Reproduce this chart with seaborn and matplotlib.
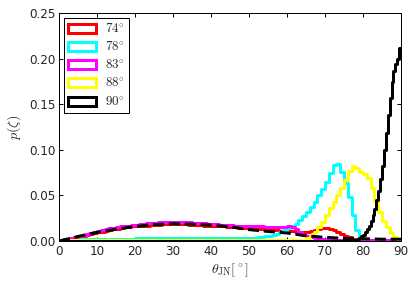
import numpy as np
import pandas as pd
import seaborn as sns
import matplotlib
matplotlib.use("Agg")
import matplotlib.pyplot as plt
from matplotlib.patches import Patch

# 1 degree bins from 0 to 90
nbins = 90
centers = np.arange(nbins) + 0.5

labels = [r'$74^{\circ}$', r'$78^{\circ}$', r'$83^{\circ}$', r'$88^{\circ}$', r'$90^{\circ}$']
colors = ['red', 'cyan', 'magenta', 'yellow', 'black']

p74 = [0.000, 0.001, 0.002, 0.003, 0.004, 0.005, 0.006, 0.007, 0.008, 0.009,
       0.010, 0.010, 0.011, 0.012, 0.013, 0.013, 0.014, 0.015, 0.015, 0.016,
       0.016, 0.017, 0.017, 0.017, 0.018, 0.018, 0.018, 0.019, 0.019, 0.019,
       0.019, 0.019, 0.019, 0.019, 0.018, 0.018, 0.018, 0.018, 0.017, 0.017,
       0.017, 0.016, 0.016, 0.016, 0.015, 0.015, 0.015, 0.014, 0.014, 0.014,
       0.013, 0.013, 0.013, 0.013, 0.012, 0.012, 0.012, 0.012, 0.011, 0.011,
       0.011, 0.011, 0.010, 0.010, 0.010, 0.010, 0.011, 0.012, 0.013, 0.014,
       0.014, 0.013, 0.012, 0.010, 0.008, 0.006, 0.004, 0.002, 0.001, 0.000,
       0.000, 0.000, 0.000, 0.000, 0.000, 0.000, 0.000, 0.000, 0.000, 0.000]

p78 = [0.001, 0.002, 0.002, 0.002, 0.002, 0.002, 0.002, 0.002, 0.002, 0.002,
       0.002, 0.002, 0.002, 0.002, 0.002, 0.002, 0.002, 0.002, 0.002, 0.002,
       0.003, 0.003, 0.003, 0.003, 0.003, 0.003, 0.003, 0.003, 0.003, 0.003,
       0.003, 0.003, 0.003, 0.003, 0.003, 0.003, 0.003, 0.003, 0.003, 0.003,
       0.003, 0.003, 0.003, 0.003, 0.003, 0.003, 0.003, 0.003, 0.003, 0.003,
       0.003, 0.003, 0.004, 0.004, 0.005, 0.006, 0.007, 0.008, 0.010, 0.012,
       0.014, 0.016, 0.019, 0.023, 0.027, 0.032, 0.037, 0.043, 0.050, 0.057,
       0.065, 0.075, 0.083, 0.084, 0.076, 0.064, 0.048, 0.028, 0.012, 0.004,
       0.001, 0.000, 0.000, 0.000, 0.000, 0.000, 0.000, 0.000, 0.000, 0.000]

p83 = [0.000, 0.001, 0.002, 0.003, 0.004, 0.005, 0.006, 0.008, 0.009, 0.010,
       0.011, 0.012, 0.013, 0.014, 0.014, 0.015, 0.016, 0.017, 0.017, 0.018,
       0.018, 0.019, 0.019, 0.020, 0.020, 0.020, 0.021, 0.021, 0.021, 0.021,
       0.021, 0.021, 0.021, 0.021, 0.021, 0.020, 0.020, 0.020, 0.020, 0.019,
       0.019, 0.019, 0.018, 0.018, 0.018, 0.018, 0.017, 0.017, 0.017, 0.016,
       0.016, 0.016, 0.016, 0.016, 0.015, 0.015, 0.015, 0.015, 0.015, 0.015,
       0.016, 0.015, 0.013, 0.010, 0.007, 0.005, 0.004, 0.003, 0.003, 0.002,
       0.002, 0.002, 0.001, 0.001, 0.001, 0.001, 0.001, 0.001, 0.001, 0.001,
       0.001, 0.001, 0.001, 0.001, 0.001, 0.001, 0.001, 0.001, 0.001, 0.001]

p88 = [0.001] * 65 + [
       0.003, 0.006, 0.010, 0.015, 0.021,
       0.028, 0.036, 0.043, 0.050, 0.058, 0.067, 0.077, 0.082, 0.080, 0.076,
       0.073, 0.069, 0.058, 0.044, 0.032, 0.022, 0.015, 0.009, 0.004, 0.001]

# 90 deg case: flat zero up to 76 deg, then finer 0.5 deg bins up to 90
p90_low = [0.000] * 76
p90_high = [0.000, 0.000, 0.001, 0.001, 0.001, 0.002, 0.003, 0.005, 0.007, 0.010,
            0.013, 0.017, 0.022, 0.028, 0.035, 0.045, 0.055, 0.068, 0.082, 0.100,
            0.118, 0.138, 0.157, 0.174, 0.186, 0.194, 0.200, 0.212]

series = [p74, p78, p83, p88]

# reference curve (dashed)
ref_x = [0, 5, 10, 15, 20, 25, 30, 35, 40, 45, 50, 55, 60, 65, 70, 75, 80, 85, 90]
ref_y = [0.000, 0.005, 0.0095, 0.013, 0.016, 0.018, 0.019, 0.0185, 0.0175, 0.0155,
         0.0125, 0.0105, 0.0088, 0.0058, 0.004, 0.003, 0.0025, 0.002, 0.002]

sns.set_style("ticks")
plt.rcParams['font.family'] = ['DejaVu Sans']
plt.rcParams['mathtext.fontset'] = 'cm'
plt.rcParams['xtick.direction'] = 'in'
plt.rcParams['ytick.direction'] = 'in'
plt.rcParams['xtick.top'] = True
plt.rcParams['ytick.right'] = True

fig = plt.figure(figsize=(416 / 72, 289 / 72), dpi=72)
ax = fig.add_axes([0.142, 0.166, 0.822, 0.789])

for vals, c in zip(series, colors[:4]):
    df = pd.DataFrame({'theta': centers, 'w': vals})
    sns.histplot(data=df, x='theta', weights='w', bins=nbins, binrange=(0, 90),
                 element='step', fill=False, color=c, linewidth=3, ax=ax)

# black: low part on 1 deg bins, high part on 0.5 deg bins
df = pd.DataFrame({'theta': np.arange(76) + 0.5, 'w': p90_low})
sns.histplot(data=df, x='theta', weights='w', bins=76, binrange=(0, 76),
             element='step', fill=False, color='black', linewidth=3, ax=ax)
df = pd.DataFrame({'theta': 76 + np.arange(28) * 0.5 + 0.25, 'w': p90_high})
sns.histplot(data=df, x='theta', weights='w', bins=28, binrange=(76, 90),
             element='step', fill=False, color='black', linewidth=3, ax=ax)

sns.lineplot(x=ref_x, y=ref_y, color='black', linestyle='--', linewidth=3,
             dashes=(3, 1.5), ax=ax)

ax.set_xlim(0, 90)
ax.set_ylim(0, 0.25)
ax.set_xticks(range(0, 91, 10))
ax.set_yticks(np.arange(0, 0.26, 0.05))
ax.set_yticklabels(['%.2f' % v for v in np.arange(0, 0.26, 0.05)])
ax.tick_params(labelsize=12, length=4, width=1, color='black')
for s in ax.spines.values():
    s.set_linewidth(1)
    s.set_color('black')

ax.set_xlabel(r'$\theta_{\rm JN}[^\circ]$', fontsize=14)
ax.set_ylabel(r'$p(\zeta)$', fontsize=14, labelpad=6)

handles = [Patch(facecolor='white', edgecolor=c, linewidth=3) for c in colors]
leg = ax.legend(handles, labels, loc='upper left', fontsize=13, frameon=True,
                fancybox=False, edgecolor='black', framealpha=1,
                handlelength=2.15, handleheight=0.7, labelspacing=0.33,
                borderpad=0.3, borderaxespad=0.4, handletextpad=0.7)
leg.get_frame().set_linewidth(1)

fig.savefig('out.png', dpi=72)
